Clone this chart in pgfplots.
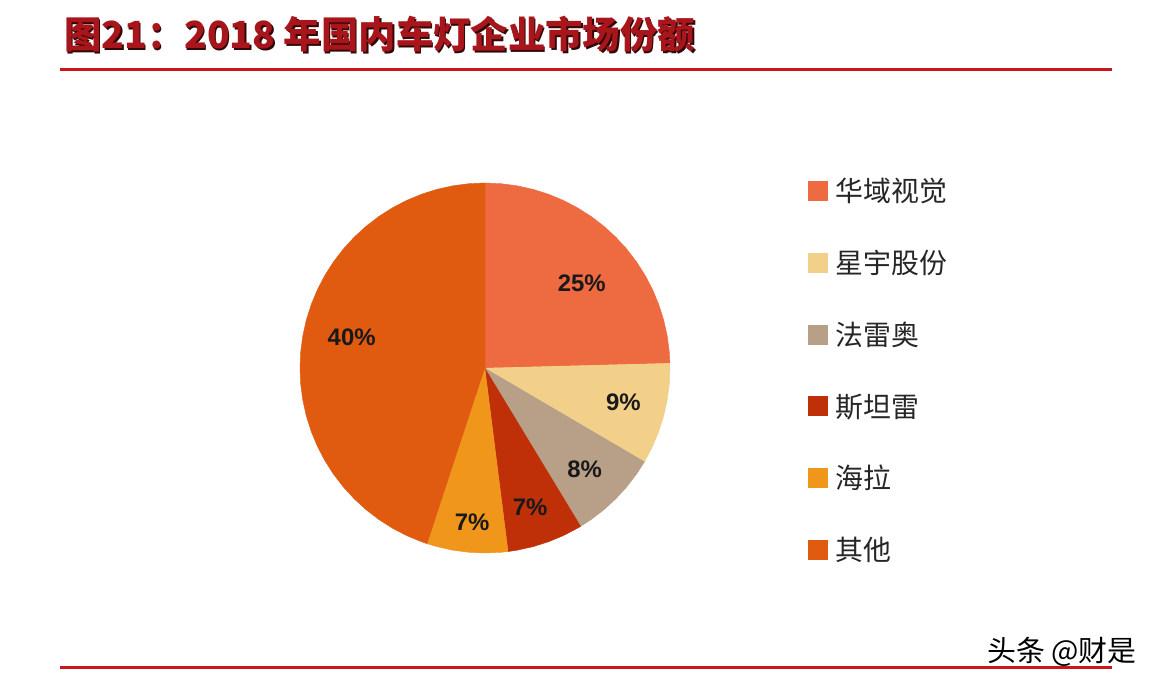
\documentclass[border=0pt]{standalone}
\usepackage{pgfplots}
\pgfplotsset{compat=1.18}
\usepgfplotslibrary{polar}
\usepackage{fontspec}
\setmainfont{Liberation Sans}
\newfontfamily\cjk{Noto Sans CJK SC}

\definecolor{titlered}{HTML}{A8161C}
\definecolor{rulered}{HTML}{C8161D}
\definecolor{cHuayu}{HTML}{EE6A40}
\definecolor{cXingyu}{HTML}{F2D08A}
\definecolor{cValeo}{HTML}{B8A088}
\definecolor{cStanley}{HTML}{C03008}
\definecolor{cHella}{HTML}{F0961A}
\definecolor{cOther}{HTML}{E05A10}

\begin{document}
\begin{tikzpicture}[x=1bp,y=1bp]
\path[use as bounding box, fill=white] (0,0) rectangle (1160,688);

% title and rules
\node[anchor=base west, inner sep=0pt, text=black!70!titlered,
      font=\cjk\bfseries\fontsize{37.5}{37.5}\selectfont] at (65.5,637.5)
      {图21：2018 年国内车灯企业市场份额};
\node[anchor=base west, inner sep=0pt, text=titlered,
      font=\cjk\bfseries\fontsize{37.5}{37.5}\selectfont] at (64,639)
      {图21：2018 年国内车灯企业市场份额};
\draw[rulered, line width=3bp] (60,618) -- (1112,618);
\draw[rulered, line width=3bp] (60,20) -- (1112,20);
\node[anchor=base west, inner sep=0pt, font=\cjk\fontsize{29}{29}\selectfont]
      at (987,26) {头条 @财是};

\begin{polaraxis}[
    at={(485bp,320bp)}, anchor=origin,
    width=370bp, height=370bp, scale only axis,
    hide axis, clip=false,
    xmin=0, xmax=360, ymin=0, ymax=1,
    legend image code/.code={\fill[#1] (0bp,-9.5bp) rectangle (19bp,9.5bp);},
    legend style={at={(1.373,1.013)}, anchor=north west, draw=none, fill=none,
        inner sep=0pt, row sep=46.8bp, column sep=8bp,
        nodes={inner sep=0pt, text=black!85},
        font=\cjk\fontsize{28}{28}\selectfont},
    legend cell align=left,
]
% 华域视觉 25%
\addplot[fill=cHuayu, draw=cHuayu, line width=0.4bp] coordinates {(0,0) (1.5,1) (5,1) (10,1) (15,1) (20,1) (25,1) (30,1) (35,1) (40,1) (45,1) (50,1) (55,1) (60,1) (65,1) (70,1) (75,1) (80,1) (85,1) (90,1)};
\addlegendentry{华域视觉}
% 星宇股份 9%
\addplot[fill=cXingyu, draw=cXingyu, line width=0.4bp] coordinates {(0,0) (-30.4,1) (-25,1) (-20,1) (-15,1) (-10,1) (-5,1) (0,1) (1.5,1)};
\addlegendentry{星宇股份}
% 法雷奥 8%
\addplot[fill=cValeo, draw=cValeo, line width=0.4bp] coordinates {(0,0) (-58.8,1) (-55,1) (-50,1) (-45,1) (-40,1) (-35,1) (-30.4,1)};
\addlegendentry{法雷奥}
% 斯坦雷 7%
\addplot[fill=cStanley, draw=cStanley, line width=0.4bp] coordinates {(0,0) (-82.8,1) (-80,1) (-75,1) (-70,1) (-65,1) (-60,1) (-58.8,1)};
\addlegendentry{斯坦雷}
% 海拉 7%
\addplot[fill=cHella, draw=cHella, line width=0.4bp] coordinates {(0,0) (-108.2,1) (-105,1) (-100,1) (-95,1) (-90,1) (-85,1) (-82.8,1)};
\addlegendentry{海拉}
% 其他 40%
\addplot[fill=cOther, draw=cOther, line width=0.4bp] coordinates {(0,0) (90,1) (95,1) (100,1) (105,1) (110,1) (115,1) (120,1) (125,1) (130,1) (135,1) (140,1) (145,1) (150,1) (155,1) (160,1) (165,1) (170,1) (175,1) (180,1) (185,1) (190,1) (195,1) (200,1) (205,1) (210,1) (215,1) (220,1) (225,1) (230,1) (235,1) (240,1) (245,1) (250,1) (251.8,1)};
\addlegendentry{其他}
% percentage labels
\addplot[forget plot, draw=none, mark=none, nodes near coords,
    point meta=explicit symbolic, nodes near coords align=center,
    every node near coord/.append style={anchor=center, inner sep=0pt,
        text=black!90, font=\bfseries\fontsize{24}{24}\selectfont}]
    coordinates {(41.2,0.695) [25\%] (-13.8,0.77) [9\%] (-45.6,0.77) [8\%]
                 (-72,0.79) [7\%] (-94.8,0.835) [7\%] (166.9,0.74) [40\%]};
\end{polaraxis}
\end{tikzpicture}
\end{document}
